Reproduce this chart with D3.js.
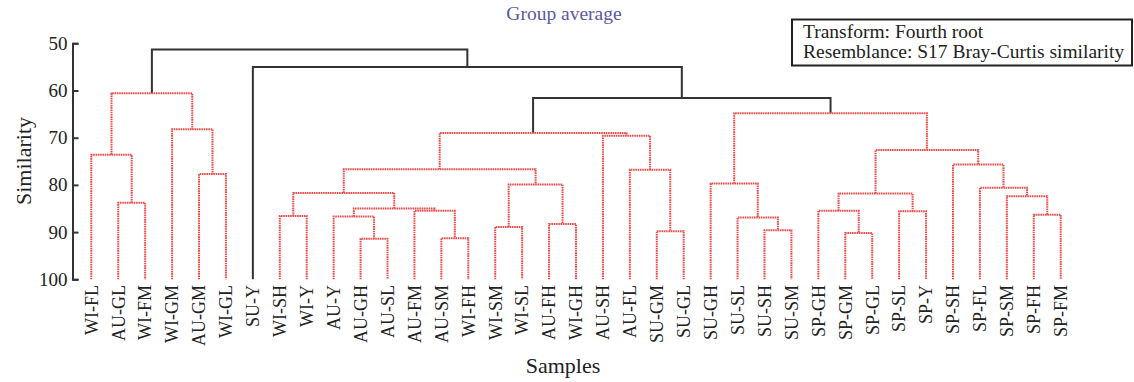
<!DOCTYPE html>
<html>
<head>
<meta charset="utf-8">
<script src="https://cdn.jsdelivr.net/npm/d3@7"></script>
<style>
  body { margin: 0; background: #fff; }
  svg { font-family: "Liberation Serif", "Times New Roman", serif; }
</style>
</head>
<body>
<svg width="1134" height="382"></svg>
<script>
// leaf order along the bottom
const leaves = ["WI-FL","AU-GL","WI-FM","WI-GM","AU-GM","WI-GL","SU-Y","WI-SH","WI-Y","AU-Y",
  "AU-GH","AU-SL","AU-FM","AU-SM","WI-FH","WI-SM","WI-SL","AU-FH","WI-GH","AU-SH","AU-FL",
  "SU-GM","SU-GL","SU-GH","SU-SL","SU-SH","SU-SM","SP-GH","SP-GM","SP-GL","SP-SL","SP-Y",
  "SP-SH","SP-FL","SP-SM","SP-FH","SP-FM"];

// linkage: [id, left child, right child, similarity at merge]
const merges = [
  ["n1","AU-GL","WI-FM",83.8],
  ["n2","WI-FL","n1",73.6],
  ["n3","AU-GM","WI-GL",77.7],
  ["n4","WI-GM","n3",68.2],
  ["n5","n2","n4",60.6],
  ["n6","WI-SH","WI-Y",86.6],
  ["n7","AU-GH","AU-SL",91.4],
  ["n8","AU-Y","n7",86.7],
  ["n9","AU-SM","WI-FH",91.3],
  ["n10","AU-FM","n9",85.5],
  ["n11","n8","n10",85.0],
  ["n12","n6","n11",81.7],
  ["n13","WI-SM","WI-SL",88.9],
  ["n14","AU-FH","WI-GH",88.3],
  ["n15","n13","n14",79.9],
  ["n16","n12","n15",76.7],
  ["n17","SU-GM","SU-GL",89.8],
  ["n18","AU-FL","n17",76.8],
  ["n19","AU-SH","n18",69.6],
  ["n20","n16","n19",69.0],
  ["n21","SU-SH","SU-SM",89.6],
  ["n22","SU-SL","n21",86.9],
  ["n23","SU-GH","n22",79.7],
  ["n24","SP-GM","SP-GL",90.2],
  ["n25","SP-GH","n24",85.5],
  ["n26","SP-SL","SP-Y",85.6],
  ["n27","n25","n26",81.8],
  ["n28","SP-FH","SP-FM",86.3],
  ["n29","SP-SM","n28",82.4],
  ["n30","SP-FL","n29",80.6],
  ["n31","SP-SH","n30",75.7],
  ["n32","n27","n31",72.6],
  ["n33","n23","n32",64.8],
  ["n34","n20","n33",61.6],
  ["n35","SU-Y","n34",55.0],
  ["n36","n5","n35",51.3]
];

// merges not supported as separate groups (drawn black)
const blackNodes = ["n34","n35","n36"];

const yTicks = [50,60,70,80,90,100];
const legendLines = ["Transform: Fourth root","Resemblance: S17 Bray-Curtis similarity"];

const svg = d3.select("svg");

const x = d3.scalePoint().domain(leaves).range([91.3, 1060.7]);
const y = d3.scaleLinear().domain([50,100]).range([43.3, 279.3]);

// build tree for d3.hierarchy
const byId = {};
leaves.forEach(l => byId[l] = {name: l, sim: 100, children: null});
merges.forEach(m => {
  byId[m[0]] = {name: m[0], sim: m[3], children: [byId[m[1]], byId[m[2]]]};
});
const root = d3.hierarchy(byId["n36"]);

// x of each node = midpoint of its children
root.eachAfter(d => {
  if (!d.children) d.px = x(d.data.name);
  else d.px = (d.children[0].px + d.children[1].px) / 2;
});

const red = "#ee4d4d";
const black = "#333";

function style(sel, isBlack) {
  sel.attr("fill","none")
    .attr("stroke", isBlack ? black : red)
    .attr("stroke-width", 2)
    .attr("stroke-dasharray", isBlack ? null : "1.6 0.7");
}

const g = svg.append("g");
root.descendants().filter(d => d.children).forEach(d => {
  const isBlack = blackNodes.includes(d.data.name);
  const [a, b] = d.children;
  const path = d3.path();
  path.moveTo(a.px, y(a.data.sim));
  path.lineTo(a.px, y(d.data.sim));
  path.lineTo(b.px, y(d.data.sim));
  path.lineTo(b.px, y(b.data.sim));
  g.append("path").attr("d", path.toString()).call(style, isBlack);
});

// axis
const axis = svg.append("g")
  .attr("transform","translate(72.5,0)")
  .call(d3.axisLeft(y).tickValues(yTicks).tickSize(-6).tickPadding(5));
axis.selectAll("path, line").attr("stroke", black).attr("stroke-width", 2);
axis.selectAll("text").attr("font-size", 19).attr("font-family", "Liberation Serif").attr("fill","#222");

svg.append("text")
  .attr("transform","translate(31,161) rotate(-90)")
  .attr("text-anchor","middle")
  .attr("font-size", 22)
  .attr("fill","#222")
  .text("Similarity");

// leaf labels
svg.append("g").selectAll("text")
  .data(leaves)
  .join("text")
  .attr("transform", d => `translate(${x(d)},285) rotate(-90)`)
  .attr("text-anchor","end")
  .attr("dy","0.35em")
  .attr("font-size", 18)
  .attr("fill","#222")
  .text(d => d);

svg.append("text")
  .attr("x", 563).attr("y", 373)
  .attr("text-anchor","middle")
  .attr("font-size", 22)
  .attr("fill","#222")
  .text("Samples");

svg.append("text")
  .attr("x", 564).attr("y", 20)
  .attr("text-anchor","middle")
  .attr("font-size", 19.5)
  .attr("fill","#5a5a9c")
  .text("Group average");

// legend box
svg.append("rect")
  .attr("x", 792).attr("y", 19.5)
  .attr("width", 340).attr("height", 46)
  .attr("fill","none").attr("stroke","#222").attr("stroke-width",2);
svg.append("g").selectAll("text")
  .data(legendLines)
  .join("text")
  .attr("x", 803)
  .attr("y", (d,i) => 37.5 + i*20.5)
  .attr("font-size", 19.5)
  .attr("fill","#222")
  .text(d => d);
</script>
</body>
</html>
